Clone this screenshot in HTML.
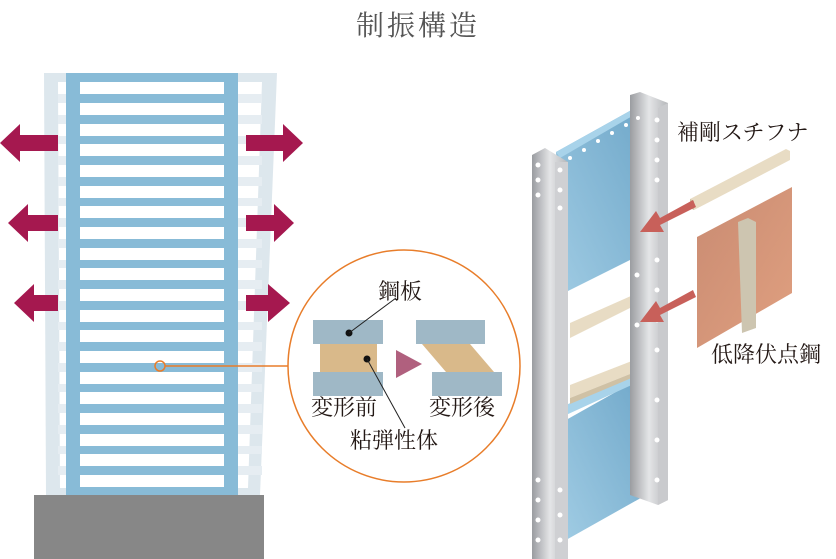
<!DOCTYPE html>
<html><head><meta charset="utf-8"><style>
html,body{margin:0;padding:0;background:#fff;}
svg{display:block;}
text{font-family:"Liberation Serif","Noto Serif CJK SC",serif;fill:#231815;}
</style></head><body>
<svg width="836" height="559" viewBox="0 0 836 559" xmlns="http://www.w3.org/2000/svg">
<defs>
<linearGradient id="col" x1="0" x2="1"><stop offset="0" stop-color="#9a9ca0"/><stop offset="0.5" stop-color="#e4e5e7"/><stop offset="1" stop-color="#b5b7ba"/></linearGradient>
<linearGradient id="blue" x1="1" y1="0" x2="0" y2="1"><stop offset="0" stop-color="#6fa7c9"/><stop offset="1" stop-color="#9fcbe3"/></linearGradient>
<linearGradient id="cu" x1="0" y1="0" x2="1" y2="1"><stop offset="0" stop-color="#c98b72"/><stop offset="1" stop-color="#e0a080"/></linearGradient>
</defs>
<text x="418" y="35" font-size="28" text-anchor="middle" style="fill:#555;letter-spacing:3px">制振構造</text>

<!-- ghost frame -->
<polygon points="44,73 277,73 260,495 46,495" fill="#dde7ed"/>
<polygon points="58,82 262,82 248,488 60,488" fill="#fff"/>
<g fill="#e6edf2">
<rect x="58" y="94" width="204" height="9"/><rect x="58" y="115" width="204" height="9"/><rect x="58" y="136" width="204" height="8"/><rect x="58" y="156" width="204" height="9"/><rect x="58" y="177" width="204" height="9"/><rect x="58" y="198" width="204" height="8"/><rect x="58" y="218" width="204" height="9"/><rect x="58" y="239" width="204" height="9"/><rect x="58" y="260" width="204" height="8"/><rect x="58" y="280" width="204" height="9"/><rect x="58" y="301" width="204" height="9"/><rect x="58" y="322" width="204" height="8"/><rect x="58" y="342" width="204" height="9"/><rect x="58" y="363" width="204" height="9"/><rect x="58" y="384" width="204" height="8"/><rect x="58" y="404" width="204" height="9"/><rect x="58" y="425" width="204" height="9"/><rect x="58" y="446" width="204" height="8"/><rect x="58" y="466" width="204" height="9"/>
</g>
<!-- main frame -->
<rect x="66" y="73" width="172" height="422" fill="#88bbd7"/>
<g fill="#fff">
<rect x="80" y="82" width="144" height="12"/><rect x="80" y="103" width="144" height="12"/><rect x="80" y="124" width="144" height="12"/><rect x="80" y="144" width="144" height="12"/><rect x="80" y="165" width="144" height="12"/><rect x="80" y="186" width="144" height="12"/><rect x="80" y="206" width="144" height="12"/><rect x="80" y="227" width="144" height="12"/><rect x="80" y="248" width="144" height="12"/><rect x="80" y="268" width="144" height="12"/><rect x="80" y="289" width="144" height="12"/><rect x="80" y="310" width="144" height="12"/><rect x="80" y="330" width="144" height="12"/><rect x="80" y="351" width="144" height="12"/><rect x="80" y="372" width="144" height="12"/><rect x="80" y="392" width="144" height="12"/><rect x="80" y="413" width="144" height="12"/><rect x="80" y="434" width="144" height="12"/><rect x="80" y="454" width="144" height="12"/><rect x="80" y="475" width="144" height="12"/>
</g>
<rect x="34" y="495" width="230" height="64" fill="#878787"/>
<!-- arrows -->
<g fill="#a5184f">
<polygon points="58,135 20,135 20,124 0,143 20,162 20,151 58,151"/>
<polygon points="58,215 28,215 28,204 8,223 28,242 28,231 58,231"/>
<polygon points="58,295 34,295 34,284 14,303 34,322 34,311 58,311"/>
<polygon points="246,135 283,135 283,124 303,143 283,162 283,151 246,151"/>
<polygon points="246,215 274,215 274,204 294,223 274,242 274,231 246,231"/>
<polygon points="246,295 268,295 268,284 290,303 268,322 268,311 246,311"/>
</g>
<!-- callout -->
<circle cx="160" cy="366" r="5" fill="none" stroke="#e87d2a" stroke-width="1.5"/>
<line x1="165" y1="366" x2="288" y2="366" stroke="#e87d2a" stroke-width="1.5"/>
<circle cx="404" cy="366" r="116" fill="#fff" stroke="#e87d2a" stroke-width="1.5"/>
<rect x="313" y="320" width="70" height="24" fill="#9fb8c6"/>
<rect x="320" y="344" width="57" height="28" fill="#d9b98a"/>
<rect x="313" y="372" width="70" height="24" fill="#9fb8c6"/>
<rect x="416" y="320" width="69" height="24" fill="#9fb8c6"/>
<polygon points="422,344 470,344 494,372 446,372" fill="#d9b98a"/>
<rect x="432" y="372" width="70" height="24" fill="#9fb8c6"/>
<polygon points="396,350 396,378 422,364" fill="#b0607e"/>
<circle cx="349" cy="333" r="3.5" fill="#111"/>
<circle cx="367" cy="359" r="3.5" fill="#111"/>
<line x1="349" y1="333" x2="396" y2="298" stroke="#222" stroke-width="1"/>
<line x1="367" y1="359" x2="405" y2="428" stroke="#222" stroke-width="1"/>
<text x="378" y="299" font-size="22">鋼板</text>
<text x="311" y="415" font-size="22">変形前</text>
<text x="429" y="415" font-size="22">変形後</text>
<text x="350" y="448" font-size="22">粘弾性体</text>

<!-- right structure -->
<polygon points="556,152 646,102 646,252 566,292" fill="url(#blue)"/>
<polygon points="556,152 646,102 646,108 560,158" fill="#a8d3ea"/>
<polygon points="566,420 646,375 646,495 566,540" fill="url(#blue)"/>
<polygon points="566,405 660,362 660,372 566,415" fill="#a8d3ea"/>
<polygon points="634,255 646,250 646,372 634,378" fill="#6f9bb8"/>
<!-- beams -->
<polygon points="570,323 640,292 640,303 570,338" fill="#e8dcc4"/>
<polygon points="570,385 660,350 660,362 570,398" fill="#e8dcc4"/>
<polygon points="570,398 660,362 660,366 570,404" fill="#cfc1a5"/>
<!-- right column -->
<polygon points="630,95 640,92 668,103 668,500 658,505 630,495" fill="url(#col)"/>
<polygon points="658,108 668,103 668,500 658,505" fill="#c9cacd"/>
<!-- left column -->
<polygon points="532,155 545,148 568,162 568,559 532,559" fill="url(#col)"/>
<polygon points="555,162 568,162 568,559 555,559" fill="#cfd0d3"/>
<g fill="#fff">
<circle cx="538" cy="165" r="2.5"/><circle cx="538" cy="180" r="2.5"/><circle cx="538" cy="195" r="2.5"/>
<circle cx="560" cy="170" r="2.5"/><circle cx="560" cy="190" r="2.5"/><circle cx="560" cy="208" r="2.5"/>
<circle cx="538" cy="480" r="2.5"/><circle cx="538" cy="500" r="2.5"/><circle cx="538" cy="520" r="2.5"/><circle cx="538" cy="540" r="2.5"/>
<circle cx="560" cy="490" r="2.5"/><circle cx="560" cy="515" r="2.5"/><circle cx="560" cy="540" r="2.5"/>
<circle cx="657" cy="120" r="2.5"/><circle cx="657" cy="140" r="2.5"/><circle cx="657" cy="160" r="2.5"/><circle cx="657" cy="180" r="2.5"/><circle cx="657" cy="260" r="2.5"/><circle cx="657" cy="290" r="2.5"/><circle cx="657" cy="320" r="2.5"/><circle cx="657" cy="350" r="2.5"/><circle cx="657" cy="400" r="2.5"/><circle cx="657" cy="440" r="2.5"/><circle cx="657" cy="480" r="2.5"/>
<circle cx="637" cy="275" r="2.5"/><circle cx="637" cy="325" r="2.5"/>
<circle cx="570" cy="158" r="2"/><circle cx="584" cy="150" r="2"/><circle cx="598" cy="141" r="2"/><circle cx="612" cy="133" r="2"/><circle cx="626" cy="125" r="2"/><circle cx="638" cy="118" r="2"/>
</g>
<!-- stiffener & copper -->
<polygon points="690,199 786,149 790,151 790,160 694,210 690,208" fill="#e8dcc4"/>
<polygon points="690,199 694,201 694,210 690,208" fill="#cfc1a5"/>
<polygon points="697,237 792,187 792,293 697,348" fill="url(#cu)"/>
<polygon points="738,222 748,218 756,222 756,328 742,333" fill="#cdc5b0"/>
<g fill="#c8605a">
<polygon points="693,200 660,218 656,211 640,232 664,232 660,225 696,207"/>
<polygon points="693,290 660,308 656,301 640,322 664,322 660,315 696,297"/>
</g>
<text x="677" y="140" font-size="22">補剛スチフナ</text>
<text x="711" y="362" font-size="22">低降伏点鋼</text>
</svg>
</body></html>
